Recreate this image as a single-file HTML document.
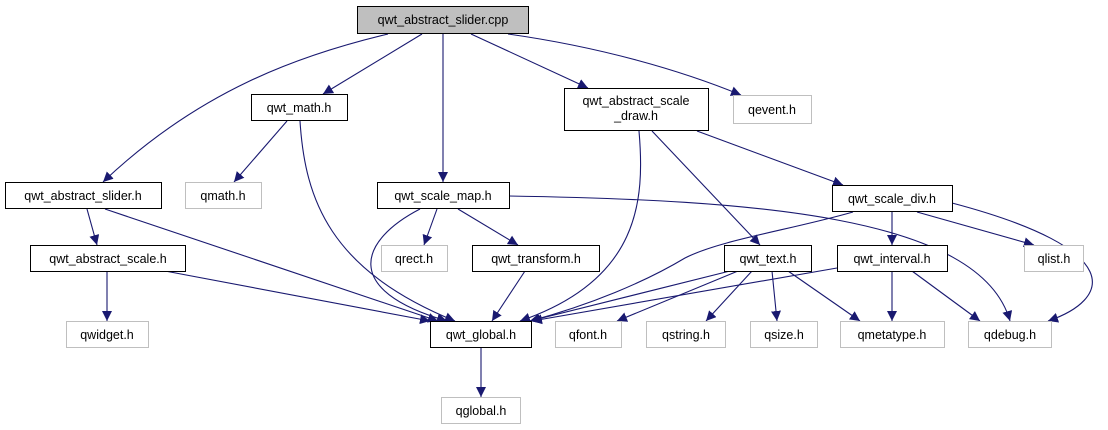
<!DOCTYPE html>
<html><head><meta charset="utf-8"><style>
body{margin:0;background:#fff}
svg text{font-family:"Liberation Sans",sans-serif;font-size:12.5px;fill:#000}
</style></head><body>
<svg width="1108" height="425" viewBox="0 0 1108 425" xmlns="http://www.w3.org/2000/svg">
<defs><marker id="a" viewBox="0 0 10 10" refX="10" refY="5" markerWidth="10" markerHeight="10" markerUnits="userSpaceOnUse" orient="auto"><path d="M0,0 L10,5 L0,10 z" fill="#191970"/></marker></defs>
<g fill="none" stroke="#191970" stroke-width="1.1" marker-end="url(#a)">
<path d="M388,34 C300,55 200,90 103,182"/>
<path d="M422,34 L323,94"/>
<path d="M443,34 L443,182"/>
<path d="M471,34 L588,88"/>
<path d="M508,34 C600,47 680,70 741,95"/>
<path d="M287,121 L234,182"/>
<path d="M300,121 C305,200 330,270 455,321"/>
<path d="M87,209 L97,245"/>
<path d="M105,209 L438,321"/>
<path d="M420,209 C360,240 340,290 447,321"/>
<path d="M437,209 L424,245"/>
<path d="M458,209 L518,245"/>
<path d="M509,196 C750,200 980,215 1010,321"/>
<path d="M639,131 C645,200 640,280 520,321"/>
<path d="M652,131 L760,245"/>
<path d="M697,131 L843,185"/>
<path d="M853,212 C790,230 720,240 685,258 C645,282 590,305 530,321"/>
<path d="M892,212 L892,245"/>
<path d="M917,212 L1034,245"/>
<path d="M952,203 C1130,250 1110,300 1048,321"/>
<path d="M107,271 L107,321"/>
<path d="M165,271 L430,321"/>
<path d="M525,271 L492,321"/>
<path d="M730,271 L530,321"/>
<path d="M738,271 L617,321"/>
<path d="M752,271 L706,321"/>
<path d="M772,271 L777,321"/>
<path d="M788,271 L860,321"/>
<path d="M837,268 L532,321"/>
<path d="M892,271 L892,321"/>
<path d="M912,271 L980,321"/>
<path d="M481,347 L481,397"/>
</g>
<g stroke-width="1" font-size="12">
<rect x="357.5" y="6.5" width="171" height="27" fill="#bfbfbf" stroke="#000"/>
<rect x="251.5" y="94.5" width="96" height="26" fill="#fff" stroke="#000"/>
<rect x="564.5" y="88.5" width="144" height="42" fill="#fff" stroke="#000"/>
<rect x="733.5" y="95.5" width="78" height="28" fill="#fff" stroke="#bfbfbf"/>
<rect x="5.5" y="182.5" width="156" height="26" fill="#fff" stroke="#000"/>
<rect x="185.5" y="182.5" width="76" height="26" fill="#fff" stroke="#bfbfbf"/>
<rect x="377.5" y="182.5" width="132" height="26" fill="#fff" stroke="#000"/>
<rect x="832.5" y="185.5" width="120" height="26" fill="#fff" stroke="#000"/>
<rect x="30.5" y="245.5" width="155" height="26" fill="#fff" stroke="#000"/>
<rect x="381.5" y="245.5" width="66" height="26" fill="#fff" stroke="#bfbfbf"/>
<rect x="472.5" y="245.5" width="127" height="26" fill="#fff" stroke="#000"/>
<rect x="724.5" y="245.5" width="87" height="26" fill="#fff" stroke="#000"/>
<rect x="837.5" y="245.5" width="110" height="26" fill="#fff" stroke="#000"/>
<rect x="1024.5" y="245.5" width="59" height="26" fill="#fff" stroke="#bfbfbf"/>
<rect x="66.5" y="321.5" width="82" height="26" fill="#fff" stroke="#bfbfbf"/>
<rect x="430.5" y="321.5" width="101" height="26" fill="#fff" stroke="#000"/>
<rect x="555.5" y="321.5" width="66" height="26" fill="#fff" stroke="#bfbfbf"/>
<rect x="646.5" y="321.5" width="79" height="26" fill="#fff" stroke="#bfbfbf"/>
<rect x="750.5" y="321.5" width="67" height="26" fill="#fff" stroke="#bfbfbf"/>
<rect x="840.5" y="321.5" width="104" height="26" fill="#fff" stroke="#bfbfbf"/>
<rect x="968.5" y="321.5" width="83" height="26" fill="#fff" stroke="#bfbfbf"/>
<rect x="441.5" y="397.5" width="79" height="26" fill="#fff" stroke="#bfbfbf"/>
</g>
<g text-anchor="middle">
<text x="443" y="24">qwt_abstract_slider.cpp</text>
<text x="299" y="112">qwt_math.h</text>
<text x="636" y="105">qwt_abstract_scale</text>
<text x="636" y="120">_draw.h</text>
<text x="772" y="114">qevent.h</text>
<text x="83" y="200">qwt_abstract_slider.h</text>
<text x="223" y="200">qmath.h</text>
<text x="443" y="200">qwt_scale_map.h</text>
<text x="892" y="203">qwt_scale_div.h</text>
<text x="108" y="263">qwt_abstract_scale.h</text>
<text x="414" y="263">qrect.h</text>
<text x="536" y="263">qwt_transform.h</text>
<text x="768" y="263">qwt_text.h</text>
<text x="892" y="263">qwt_interval.h</text>
<text x="1054" y="263">qlist.h</text>
<text x="107" y="339">qwidget.h</text>
<text x="481" y="339">qwt_global.h</text>
<text x="588" y="339">qfont.h</text>
<text x="686" y="339">qstring.h</text>
<text x="784" y="339">qsize.h</text>
<text x="892" y="339">qmetatype.h</text>
<text x="1010" y="339">qdebug.h</text>
<text x="481" y="415">qglobal.h</text>
</g>
</svg>
</body></html>
